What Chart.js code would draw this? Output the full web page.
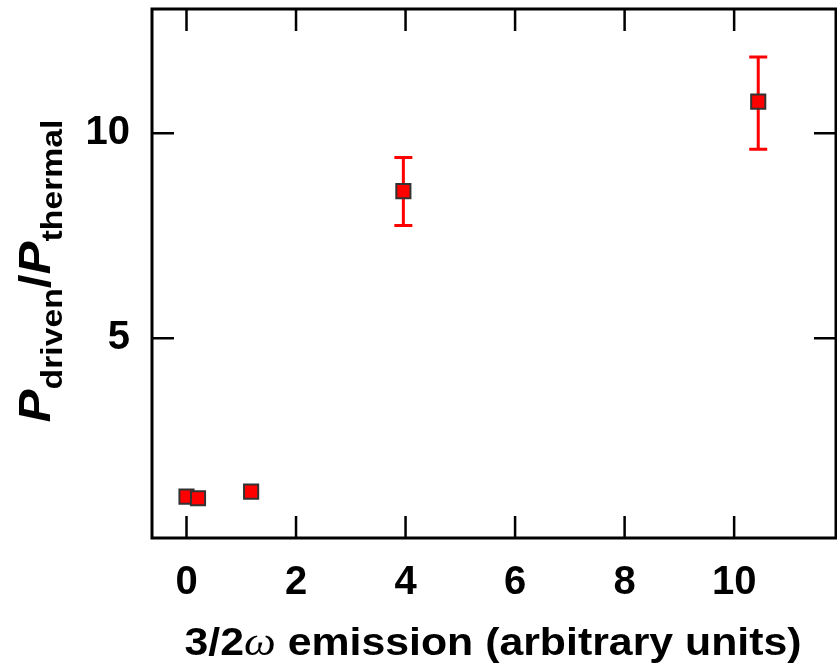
<!DOCTYPE html>
<html>
<head>
<meta charset="utf-8">
<script src="https://cdn.jsdelivr.net/npm/chart.js@4.4.0/dist/chart.umd.min.js"></script>
<style>
  html, body { margin: 0; padding: 0; background: #fff; }
  #wrap { width: 837px; height: 667px; }
</style>
</head>
<body>
<div id="wrap"><canvas id="chart" width="837" height="667"></canvas></div>
<script>
// données
var emission = [0.0, 0.21, 1.18, 3.96, 10.44]
var ratio = [1.14, 1.10, 1.26, 8.59, 10.77]
var errLow = [null, null, null, 7.75, 9.61]
var errHigh = [null, null, null, 9.41, 11.86]
var xTicks = [0, 2, 4, 6, 8, 10]
var yTicks = [5, 10]

const FONT = '"Liberation Sans", Arial, Helvetica, sans-serif'

// barres d'erreur, dessinées sous les points
const errorBars = {
  id: 'errorBars',
  beforeDatasetsDraw(chart) {
    const ctx = chart.ctx
    const xs = chart.scales.x, ys = chart.scales.y
    ctx.save()
    ctx.strokeStyle = '#ff0000'
    ctx.lineWidth = 3
    for (let i = 0; i < emission.length; i++) {
      if (errLow[i] == null) continue
      const px = xs.getPixelForValue(emission[i])
      const lo = ys.getPixelForValue(errLow[i])
      const hi = ys.getPixelForValue(errHigh[i])
      ctx.beginPath()
      ctx.moveTo(px, lo); ctx.lineTo(px, hi)
      ctx.moveTo(px - 9, lo); ctx.lineTo(px + 9, lo)
      ctx.moveTo(px - 9, hi); ctx.lineTo(px + 9, hi)
      ctx.stroke()
    }
    ctx.restore()
  }
}

// cadre, graduations intérieures et titres des axes
const frame = {
  id: 'frame',
  afterDraw(chart) {
    const ctx = chart.ctx
    const a = chart.chartArea
    const xs = chart.scales.x, ys = chart.scales.y
    const tl = 22
    ctx.save()
    ctx.strokeStyle = '#000'
    ctx.lineWidth = 2.5
    ctx.beginPath()
    xTicks.forEach(v => {
      const px = xs.getPixelForValue(v)
      ctx.moveTo(px, a.bottom); ctx.lineTo(px, a.bottom - tl)
      ctx.moveTo(px, a.top); ctx.lineTo(px, a.top + tl)
    })
    yTicks.forEach(v => {
      const py = ys.getPixelForValue(v)
      ctx.moveTo(a.left, py); ctx.lineTo(a.left + tl, py)
      ctx.moveTo(a.right, py); ctx.lineTo(a.right - tl, py)
    })
    ctx.stroke()
    ctx.lineWidth = 3
    ctx.strokeRect(a.left, a.top, a.right - a.left, a.bottom - a.top)

    // titre axe x
    ctx.fillStyle = '#000'
    ctx.textBaseline = 'alphabetic'
    const xParts = [
      ['3/2', 'bold 39px ' + FONT, 0],
      ['\u03c9', 'italic 41px "Liberation Serif", serif', 0],
      [' emission (arbitrary units)', 'bold 39px ' + FONT, 0]
    ]
    ctx.save()
    ctx.translate(493, 655)
    drawParts(ctx, xParts, 617)
    ctx.restore()

    // titre axe y (tourné)
    ctx.translate(50, 271)
    ctx.rotate(-Math.PI / 2)
    const yParts = [
      ['P', 'italic bold 44px ' + FONT, 0],
      ['driven', 'bold 30px ' + FONT, 12],
      ['/', 'bold 44px ' + FONT, 0],
      ['P', 'italic bold 44px ' + FONT, 0],
      ['thermal', 'bold 30px ' + FONT, 12]
    ]
    drawParts(ctx, yParts, 303)
    ctx.restore()
  }
}

// texte en plusieurs morceaux, centré sur l'origine et étiré à la longueur voulue
function drawParts(ctx, parts, len) {
  let total = 0
  parts.forEach(p => { ctx.font = p[1]; total += ctx.measureText(p[0]).width })
  ctx.scale(len / total, 1)
  let x = -total / 2
  parts.forEach(p => {
    ctx.font = p[1]
    ctx.fillText(p[0], x, p[2])
    x += ctx.measureText(p[0]).width
  })
}

function noPad(s) {
  s.paddingTop = 0; s.paddingBottom = 0; s.paddingLeft = 0; s.paddingRight = 0
}

const config = {
  type: 'scatter',
  data: {
    datasets: [{
      data: emission.map((v, i) => ({x: v, y: ratio[i]})),
      pointStyle: 'rect',
      pointRadius: 10,
      pointHoverRadius: 10,
      backgroundColor: '#ff0000',
      borderColor: '#333333',
      borderWidth: 2
    }]
  },
  options: {
    responsive: false,
    animation: false,
    events: [],
    layout: { autoPadding: false, padding: { top: 9, right: 1, left: 0, bottom: 0 } },
    plugins: { legend: { display: false }, tooltip: { enabled: false } },
    scales: {
      x: {
        type: 'linear',
        min: -0.63, max: 11.86,
        grid: { display: false },
        border: { display: false },
        afterBuildTicks: s => { s.ticks = xTicks.map(v => ({value: v})) },
        afterFit: s => { s.height = 129; noPad(s) },
        ticks: { color: '#000', padding: 13, maxRotation: 0, font: { family: FONT, size: 40, weight: 'bold' } }
      },
      y: {
        type: 'linear',
        min: 0.13, max: 13.03,
        grid: { display: false },
        border: { display: false },
        afterBuildTicks: s => { s.ticks = yTicks.map(v => ({value: v})) },
        afterFit: s => { s.width = 152; noPad(s) },
        ticks: { color: '#000', padding: 14, font: { family: FONT, size: 40, weight: 'bold' } }
      }
    }
  },
  plugins: [errorBars, frame]
}

new Chart(document.getElementById('chart').getContext('2d'), config)
</script>
</body>
</html>
